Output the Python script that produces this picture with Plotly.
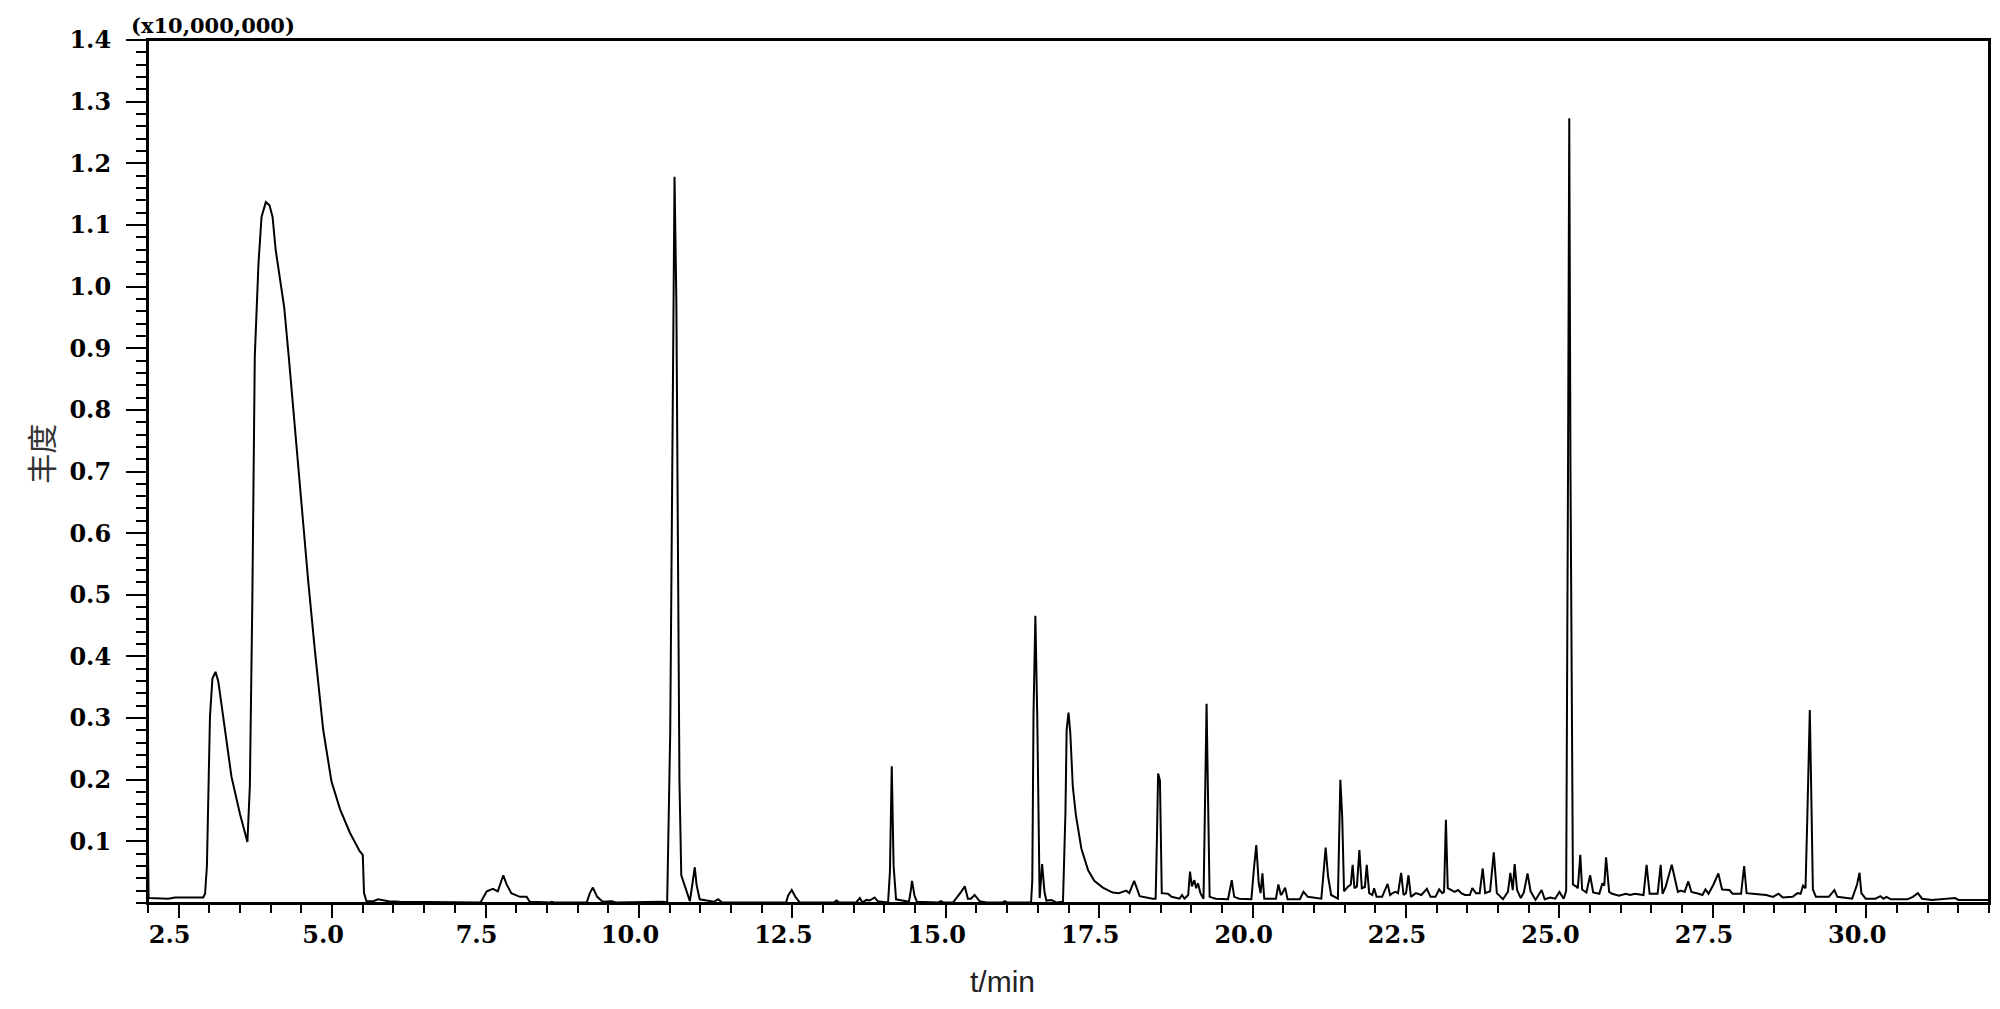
import plotly.graph_objects as go

# retention time (min) and abundance (x10,000,000)
time_min = [
    2.00, 2.01, 2.33, 2.44, 2.90, 2.93, 2.96, 2.98, 3.01, 3.05, 3.10, 3.145, 3.25, 3.36, 3.50, 3.62,
    3.66, 3.70, 3.74, 3.80, 3.85, 3.92, 3.98, 4.03, 4.08, 4.15, 4.22, 4.30, 4.39, 4.50, 4.61, 4.72,
    4.855, 4.99, 5.13, 5.29, 5.45, 5.50, 5.52, 5.56, 5.67, 5.75, 5.92, 6.10, 7.41, 7.43, 7.52, 7.62,
    7.70, 7.79, 7.84, 7.92, 8.00, 8.06, 8.17, 8.22, 8.55, 8.58, 8.62, 9.15, 9.20, 9.25, 9.32, 9.41,
    9.56, 9.62, 10.39, 10.45,
    10.46, 10.51, 10.54, 10.56, 10.58, 10.61, 10.64, 10.66, 10.69, 10.77, 10.83, 10.87, 10.91, 10.94,
    10.99, 11.22, 11.29, 11.35, 11.97, 12.40, 12.43, 12.49, 12.55, 12.62, 13.18, 13.22, 13.26, 13.54,
    13.60, 13.64, 13.71, 13.76, 13.84, 13.89, 14.06, 14.09, 14.12, 14.15, 14.19, 14.40, 14.43, 14.45,
    14.49, 14.53, 14.88, 14.92, 14.96, 15.12, 15.25, 15.31, 15.36, 15.41, 15.47, 15.55, 15.67, 15.93,
    15.96, 16.00, 16.39,
    16.41, 16.43, 16.46, 16.49, 16.52, 16.53, 16.57, 16.61, 16.64, 16.72, 16.80, 16.91, 16.95, 16.97,
    17.00, 17.03, 17.07, 17.12, 17.21, 17.32, 17.42, 17.56, 17.72, 17.82, 17.94, 17.99, 18.07, 18.16,
    18.37, 18.42, 18.44, 18.46, 18.49, 18.52, 18.62, 18.68, 18.81, 18.85, 18.89, 18.95, 18.98, 19.01,
    19.05, 19.08, 19.11, 19.15, 19.20, 19.23, 19.25, 19.27, 19.30, 19.40, 19.60, 19.66, 19.70, 19.78,
    19.98, 20.02, 20.06, 20.10, 20.13, 20.16, 20.19, 20.38, 20.42, 20.46, 20.48, 20.53, 20.57, 20.77,
    20.83, 20.90, 21.12, 21.16, 21.19, 21.23, 21.28, 21.39, 21.42, 21.43, 21.46, 21.49, 21.55, 21.60,
    21.63, 21.66, 21.70, 21.74, 21.78, 21.83, 21.86, 21.90, 21.95, 21.98, 22.02, 22.11, 22.20, 22.24,
    22.28, 22.33, 22.37, 22.42, 22.46, 22.50, 22.54, 22.58, 22.66, 22.75, 22.84, 22.90, 22.98, 23.04,
    23.09, 23.12, 23.15, 23.18, 23.24, 23.29, 23.35, 23.40, 23.46, 23.54, 23.58, 23.64, 23.70, 23.75,
    23.79, 23.87, 23.93, 23.98, 24.08, 24.16, 24.20, 24.24, 24.27, 24.31, 24.37, 24.42, 24.48, 24.53,
    24.61, 24.71, 24.76, 24.85, 24.93, 25.00, 25.07, 25.11, 25.14, 25.16, 25.18, 25.21, 25.22, 25.27,
    25.30, 25.34, 25.37, 25.44, 25.50, 25.55, 25.65, 25.70, 25.73, 25.76, 25.81, 25.86, 25.97, 26.08,
    26.15, 26.23, 26.37, 26.42, 26.47, 26.60, 26.65, 26.68, 26.73, 26.83, 26.87, 26.93, 26.98, 27.04,
    27.10, 27.15, 27.27, 27.33, 27.38, 27.43, 27.51, 27.59, 27.65, 27.77, 27.82, 27.96, 28.01, 28.05,
    28.15, 28.37, 28.48, 28.57, 28.64, 28.80, 28.88, 28.93, 28.97, 29.01, 29.04, 29.08, 29.11, 29.13,
    29.18, 29.39, 29.48, 29.53, 29.77, 29.85, 29.89, 29.92, 29.99, 30.15, 30.23, 30.28, 30.33, 30.40,
    30.67, 30.76, 30.84, 30.91, 31.07, 31.45, 31.50, 32.00,
]
abundance = [
    0.086, 0.008, 0.007, 0.009, 0.009, 0.015, 0.060, 0.140, 0.303, 0.364, 0.375, 0.360, 0.288, 0.205, 0.144, 0.099,
    0.190, 0.490, 0.886, 1.037, 1.113, 1.137, 1.132, 1.113, 1.060, 1.011, 0.966, 0.879, 0.773, 0.651, 0.523, 0.409,
    0.281, 0.197, 0.152, 0.114, 0.084, 0.078, 0.016, 0.003, 0.003, 0.006, 0.003, 0.002, 0.001, 0.003, 0.019, 0.023,
    0.019, 0.045, 0.031, 0.016, 0.012, 0.010, 0.010, 0.002, 0.001, 0.002, 0.001, 0.001, 0.016, 0.025, 0.010, 0.002,
    0.003, 0.001, 0.002, 0.001,
    0.001, 0.277, 0.742, 1.051, 1.178, 0.974, 0.587, 0.199, 0.045, 0.021, 0.003, 0.030, 0.058, 0.029,
    0.006, 0.002, 0.006, 0.001, 0.001, 0.001, 0.012, 0.021, 0.010, 0.001, 0.001, 0.004, 0.001, 0.001,
    0.008, 0.001, 0.005, 0.004, 0.009, 0.003, 0.001, 0.050, 0.222, 0.060, 0.006, 0.002, 0.020, 0.036,
    0.012, 0.002, 0.001, 0.003, 0.001, 0.001, 0.018, 0.027, 0.007, 0.007, 0.013, 0.003, 0.001, 0.001,
    0.003, 0.001, 0.001,
    0.037, 0.308, 0.466, 0.308, 0.016, 0.008, 0.063, 0.017, 0.004, 0.005, 0.001, 0.002, 0.146, 0.281,
    0.309, 0.275, 0.189, 0.143, 0.088, 0.053, 0.036, 0.025, 0.017, 0.016, 0.020, 0.016, 0.036, 0.011,
    0.007, 0.007, 0.100, 0.210, 0.199, 0.016, 0.015, 0.010, 0.007, 0.013, 0.007, 0.013, 0.051, 0.027,
    0.037, 0.024, 0.032, 0.016, 0.007, 0.194, 0.323, 0.194, 0.010, 0.007, 0.006, 0.037, 0.010, 0.007,
    0.006, 0.054, 0.094, 0.032, 0.016, 0.048, 0.007, 0.007, 0.030, 0.013, 0.015, 0.025, 0.006, 0.006,
    0.018, 0.010, 0.007, 0.054, 0.090, 0.043, 0.013, 0.007, 0.140, 0.200, 0.140, 0.019, 0.026, 0.030,
    0.062, 0.024, 0.027, 0.086, 0.024, 0.026, 0.062, 0.016, 0.013, 0.024, 0.010, 0.010, 0.031, 0.013,
    0.016, 0.018, 0.016, 0.049, 0.013, 0.016, 0.045, 0.010, 0.016, 0.013, 0.023, 0.010, 0.010, 0.022,
    0.016, 0.018, 0.135, 0.024, 0.021, 0.018, 0.021, 0.016, 0.013, 0.013, 0.024, 0.016, 0.016, 0.056,
    0.016, 0.019, 0.082, 0.016, 0.006, 0.018, 0.049, 0.021, 0.063, 0.021, 0.008, 0.017, 0.048, 0.019,
    0.005, 0.021, 0.006, 0.009, 0.007, 0.018, 0.007, 0.020, 0.700, 1.273, 0.700, 0.050, 0.030, 0.027,
    0.024, 0.078, 0.022, 0.017, 0.045, 0.017, 0.015, 0.032, 0.028, 0.074, 0.018, 0.015, 0.012, 0.015,
    0.013, 0.015, 0.013, 0.062, 0.015, 0.015, 0.062, 0.015, 0.026, 0.062, 0.043, 0.018, 0.020, 0.018,
    0.035, 0.018, 0.015, 0.013, 0.022, 0.015, 0.030, 0.048, 0.022, 0.021, 0.015, 0.015, 0.060, 0.016,
    0.015, 0.013, 0.010, 0.015, 0.009, 0.010, 0.016, 0.015, 0.028, 0.024, 0.141, 0.313, 0.141, 0.022,
    0.010, 0.010, 0.021, 0.010, 0.007, 0.030, 0.049, 0.016, 0.007, 0.007, 0.011, 0.007, 0.010, 0.006,
    0.006, 0.010, 0.016, 0.007, 0.005, 0.008, 0.005, 0.005,
]

x_ticks = [2.5, 5.0, 7.5, 10.0, 12.5, 15.0, 17.5, 20.0, 22.5, 25.0, 27.5, 30.0]
x_labels = ["2.5", "5.0", "7.5", "10.0", "12.5", "15.0", "17.5", "20.0", "22.5", "25.0", "27.5", "30.0"]
y_ticks = [0.1, 0.2, 0.3, 0.4, 0.5, 0.6, 0.7, 0.8, 0.9, 1.0, 1.1, 1.2, 1.3, 1.4]
y_labels = ["0.1", "0.2", "0.3", "0.4", "0.5", "0.6", "0.7", "0.8", "0.9", "1.0", "1.1", "1.2", "1.3", "1.4"]

tickFont = dict(family="DejaVu Serif", size=24, color="black", weight="bold")

fig = go.Figure()
fig.add_trace(go.Scatter(x=time_min, y=abundance, mode="lines",
                         line=dict(color="black", width=2), showlegend=False))

fig.update_xaxes(range=[2.0, 32.0], showgrid=False, zeroline=False,
                 showline=True, linecolor="black", linewidth=2, mirror=True,
                 ticks="outside", ticklen=13, tickwidth=2, tickcolor="black",
                 tickvals=x_ticks, ticktext=x_labels, tickfont=tickFont,
                 ticklabelshift=-9, ticklabelstandoff=-4,
                 minor=dict(dtick=0.5, tick0=0, ticks="outside", ticklen=8,
                            tickwidth=2, tickcolor="black", showgrid=False))
fig.update_yaxes(range=[0, 1.4], showgrid=False, zeroline=False,
                 showline=True, linecolor="black", linewidth=2, mirror=True,
                 ticks="outside", ticklen=20, tickwidth=2, tickcolor="black",
                 tickvals=y_ticks, ticktext=y_labels, tickfont=tickFont,
                 ticklabelstandoff=10,
                 minor=dict(dtick=0.02, tick0=0, ticks="outside", ticklen=10,
                            tickwidth=2, tickcolor="black", showgrid=False))

# closed frame around the plotting area
fig.add_shape(type="rect", xref="paper", yref="paper", x0=0, x1=1, y0=0, y1=1,
              line=dict(color="black", width=2))

fig.add_annotation(text="(x10,000,000)", xref="paper", yref="paper",
                   x=-0.0105, y=1.0, xanchor="left", yanchor="bottom", showarrow=False,
                   font=dict(family="DejaVu Serif", size=21, color="black", weight="bold"))
fig.add_annotation(text="丰度", xref="paper", yref="paper", x=-0.0585, y=0.521,
                   xanchor="center", yanchor="middle", textangle=-90, showarrow=False,
                   font=dict(family="Noto Sans CJK SC", size=30, color="#333333"))
fig.add_annotation(text="t/min", xref="paper", yref="paper", x=0.464, y=-0.0915,
                   xanchor="center", yanchor="middle", showarrow=False,
                   font=dict(family="Liberation Sans", size=30, color="#222222"))

fig.update_layout(width=2000, height=1009, plot_bgcolor="white", paper_bgcolor="white",
                  margin=dict(l=148, r=9, t=40, b=106))
fig.write_html("out.html", config={"displayModeBar": False},
               post_script="document.body.style.margin='0';document.body.style.overflow='hidden';")
